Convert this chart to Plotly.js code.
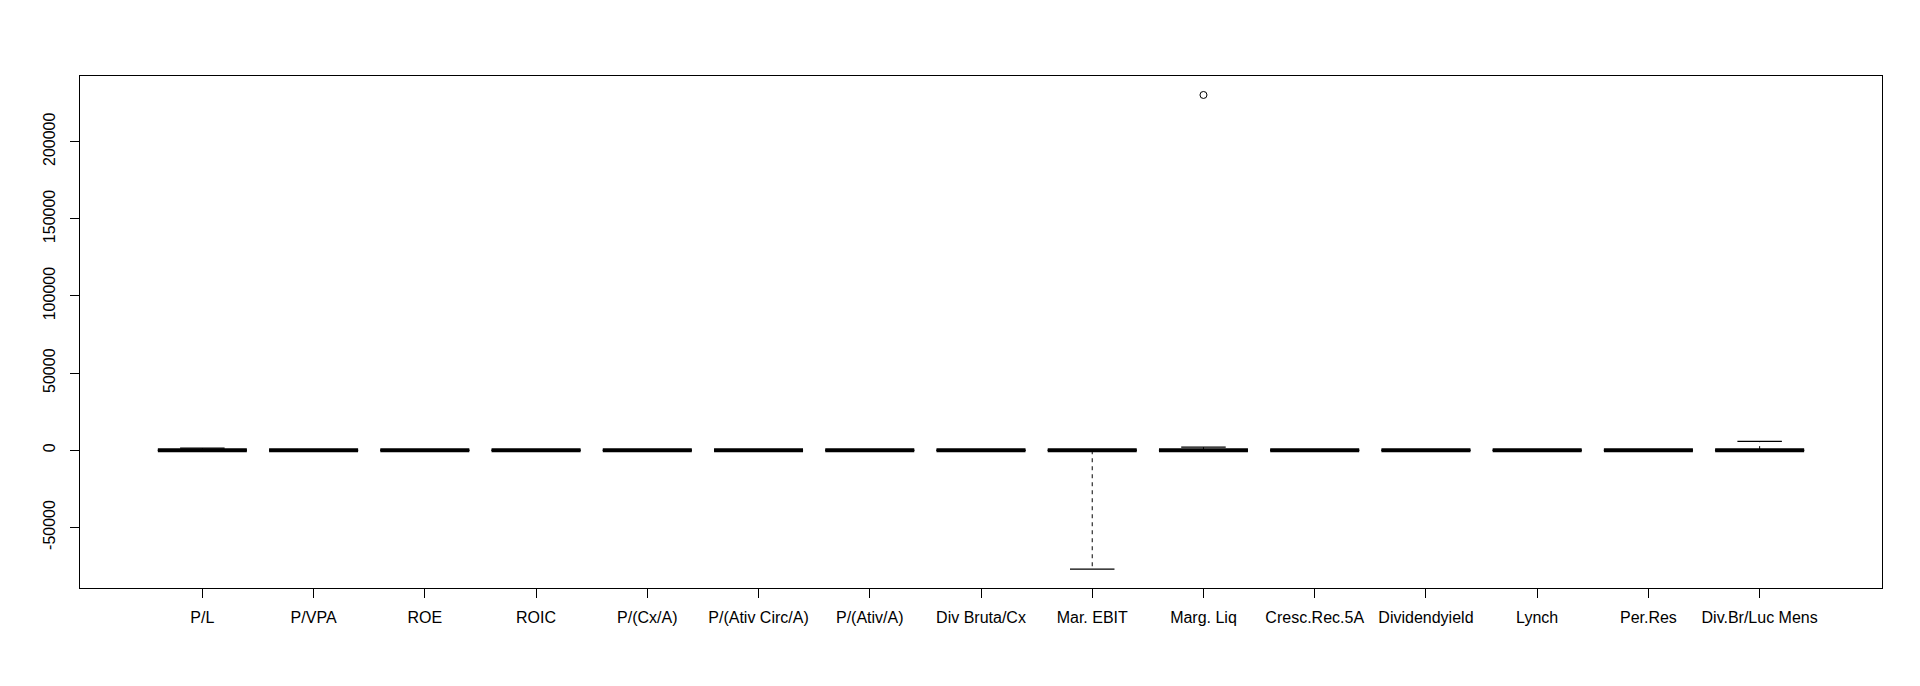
<!DOCTYPE html>
<html>
<head>
<meta charset="utf-8">
<script src="https://cdn.plot.ly/plotly-3.0.1.min.js"></script>
<style>html,body{margin:0;padding:0;background:#fff;}#chart{width:1920px;height:686px;}</style>
</head>
<body>
<div id="chart"></div>
<script>
// Categories (x tick labels)
const categories = ["P/L","P/VPA","ROE","ROIC","P/(Cx/A)","P/(Ativ Circ/A)","P/(Ativ/A)","Div Bruta/Cx","Mar. EBIT","Marg. Liq","Cresc.Rec.5A","Dividendyield","Lynch","Per.Res","Div.Br/Luc Mens"];

// Box statistics
const lowerWhisker = [-40, -5, -60, -30, -10, -5, 0, 0, -77000, -50, -20, 0, -100, -100, 0];
const q1Values     = [4, 0.7, 2, 3, 3, 0.8, 0.3, 0.5, 5, 2, 5, 0.5, 2, 0, 0];
const medianValues = [9, 1.3, 10, 8, 8, 1.5, 0.6, 1.5, 15, 8, 12, 2, 8, 5, 20];
const q3Values     = [18, 2.5, 18, 14, 20, 3, 1, 4, 28, 18, 22, 5, 20, 15, 80];
const upperWhisker = [1400, 8, 60, 40, 60, 8, 2, 8, 60, 2000, 60, 12, 60, 40, 5800];

// Outliers
const outlierCategory = ["Marg. Liq"];
const outlierValues   = [230300];

// Y tick values
const yTickValues = [-50000, 0, 50000, 100000, 150000, 200000];

const pos = categories.map((c, i) => i + 1);
const boxHalf = 0.4, capHalf = 0.2;

const medX = [], medY = [], whX = [], whY = [], capX = [], capY = [];
pos.forEach((p, i) => {
  medX.push(p - boxHalf, p + boxHalf, null); medY.push(medianValues[i], medianValues[i], null);
  whX.push(p, p, null); whY.push(q3Values[i], upperWhisker[i], null);
  whX.push(p, p, null); whY.push(q1Values[i], lowerWhisker[i], null);
  capX.push(p - capHalf, p + capHalf, null); capY.push(upperWhisker[i], upperWhisker[i], null);
  capX.push(p - capHalf, p + capHalf, null); capY.push(lowerWhisker[i], lowerWhisker[i], null);
});

const outX = outlierCategory.map(c => categories.indexOf(c) + 1);

// R-style 4% axis extension
const allVals = lowerWhisker.concat(upperWhisker, outlierValues);
const vmin = Math.min(...allVals), vmax = Math.max(...allVals);
const ext = (vmax - vmin) * 0.04;
const nCat = categories.length;
const xext = nCat * 0.04;

const font = {family: "Liberation Sans, Arial, sans-serif", size: 16, color: "#000"};

const traces = [
  {type: "scatter", mode: "lines", x: whX, y: whY, line: {color: "#000", width: 1, dash: "4px,4px"}, hoverinfo: "skip", showlegend: false},
  {type: "scatter", mode: "lines", x: capX, y: capY, line: {color: "#000", width: 1.2}, hoverinfo: "skip", showlegend: false},
  {type: "box", x: pos, q1: q1Values, median: medianValues, q3: q3Values, lowerfence: q1Values, upperfence: q3Values,
   width: 0.8, line: {color: "#000", width: 1}, fillcolor: "rgba(255,255,255,0)", boxpoints: false, showlegend: false, hoverinfo: "skip"},
  {type: "scatter", mode: "lines", x: medX, y: medY, line: {color: "#000", width: 4}, hoverinfo: "skip", showlegend: false},
  {type: "scatter", mode: "markers", x: outX, y: outlierValues, marker: {symbol: "circle-open", size: 7, color: "#000", line: {width: 1, color: "#000"}}, showlegend: false}
];

const layout = {
  width: 1920, height: 686,
  margin: {l: 80, r: 38, t: 76, b: 98},
  paper_bgcolor: "#fff", plot_bgcolor: "#fff",
  font: font,
  showlegend: false,
  xaxis: {
    range: [0.5 - xext, nCat + 0.5 + xext],
    tickvals: pos, ticktext: categories, tickmode: "array",
    showgrid: false, zeroline: false,
    showline: true, mirror: true, linecolor: "#000", linewidth: 1,
    ticks: "outside", ticklen: 9, tickcolor: "#000", tickwidth: 1,
    ticklabelstandoff: 6, tickfont: font
  },
  yaxis: {
    range: [vmin - ext, vmax + ext],
    tickvals: yTickValues, ticktext: yTickValues.map(v => String(v)), tickmode: "array",
    tickangle: -90,
    showgrid: false, zeroline: false,
    showline: true, mirror: true, linecolor: "#000", linewidth: 1,
    ticks: "outside", ticklen: 9, tickcolor: "#000", tickwidth: 1,
    ticklabelstandoff: 9, tickfont: font
  }
};

Plotly.newPlot("chart", traces, layout, {displayModeBar: false, staticPlot: true});
</script>
</body>
</html>
